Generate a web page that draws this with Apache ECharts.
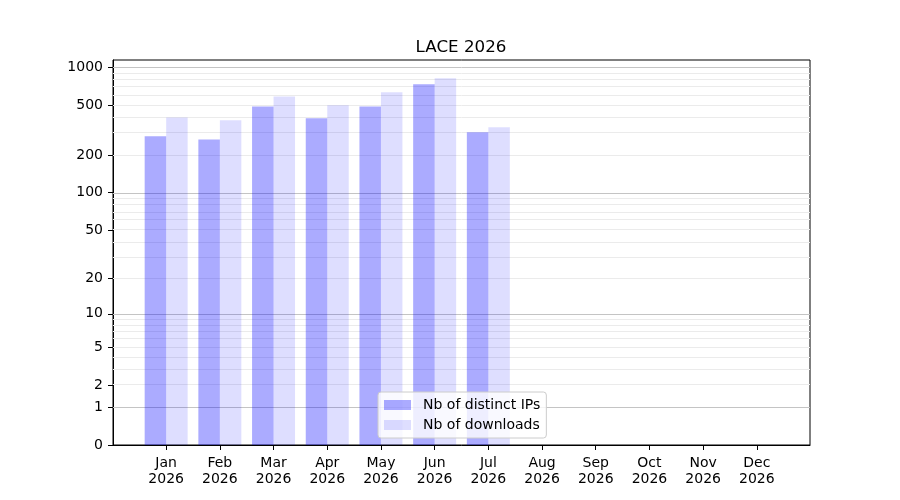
<!DOCTYPE html>
<html>
<head>
<meta charset="utf-8">
<script src="https://cdn.jsdelivr.net/npm/echarts@6/dist/echarts.min.js"></script>
<style>
  html, body { margin: 0; padding: 0; background: #fff; }
  #main { width: 900px; height: 500px; }
</style>
</head>
<body>
<div id="main"></div>
<script>
// donnees
var months = ['Jan', 'Feb', 'Mar', 'Apr', 'May', 'Jun', 'Jul', 'Aug', 'Sep', 'Oct', 'Nov', 'Dec'];
var year = '2026';
var distinctIPs = [282, 266, 487, 391, 487, 729, 303, 0, 0, 0, 0, 0];
var downloads = [398, 377, 585, 497, 630, 814, 332, 0, 0, 0, 0, 0];
var yTicks = [0, 1, 2, 5, 10, 20, 50, 100, 200, 500, 1000];
var majorGrid = [1, 10, 100, 1000];
var minorGrid = [2, 3, 4, 5, 6, 7, 8, 9, 20, 30, 40, 50, 60, 70, 80, 90, 200, 300, 400, 500, 600, 700, 800, 900];

// echelle log10(1+x)
function t(v){
    return Math.log10(1 + v);
}

function barData(vals){
    var out = [];
    for (var i = 0; i < vals.length; i++) {
        out.push([i, t(vals[i])]);
    }
    return out;
}

function gridLines(vals, color){
    var lines = [];
    for (var i = 0; i < vals.length; i++) {
        lines.push({ yAxis: t(vals[i]), lineStyle: { color: color, width: 1, type: 'solid' } });
    }
    return lines;
}

var tickPos = [];
for (var i = 0; i < yTicks.length; i++) tickPos.push(t(yTicks[i]));
var monthPos = [];
for (var i = 0; i < months.length; i++) monthPos.push(i);

var ymax = 1.05 * t(Math.max.apply(null, downloads));
var font = 'DejaVu Sans';

var myChart = echarts.init(document.getElementById('main'));
var option = {
    animation: false,
    backgroundColor: '#ffffff',
    title: {
        text: 'LACE 2026',
        left: 456,
        textAlign: 'center',
        top: 34,
        textStyle: { fontFamily: font, fontSize: 16.7, fontWeight: 'normal', color: '#000' }
    },
    legend: {
        orient: 'vertical',
        left: 378,
        top: 392,
        padding: [6, 6, 6, 6],
        itemGap: 6,
        itemWidth: 27,
        itemHeight: 10,
        icon: 'rect',
        borderColor: '#cccccc',
        borderWidth: 1,
        borderRadius: 3,
        backgroundColor: 'rgba(255,255,255,0.8)',
        textStyle: { fontFamily: font, fontSize: 14, color: '#000', lineHeight: 14, padding: [0, 0, 0, 7] },
        data: ['Nb of distinct IPs', 'Nb of downloads']
    },
    grid: {
        left: 113,
        right: 90,
        top: 60,
        bottom: 55,
        show: true,
        borderColor: '#000',
        borderWidth: 1,
        containLabel: false
    },
    xAxis: {
        type: 'value',
        min: -0.99,
        max: 11.99,
        axisLine: { show: true, onZero: false, lineStyle: { color: '#000', width: 1 } },
        axisTick: { show: true, length: 5, lineStyle: { color: '#000' }, customValues: monthPos },
        axisLabel: {
            customValues: monthPos,
            margin: 10,
            fontFamily: font,
            fontSize: 14,
            lineHeight: 16,
            color: '#000',
            formatter: function(v){
                return months[Math.round(v)] + '\n' + year;
            }
        },
        splitLine: { show: false }
    },
    yAxis: {
        type: 'value',
        min: 0,
        max: ymax,
        axisLine: { show: true, onZero: false, lineStyle: { color: '#000', width: 1 } },
        axisTick: { show: true, length: 5, lineStyle: { color: '#000' }, customValues: tickPos },
        axisLabel: {
            customValues: tickPos,
            margin: 10,
            fontFamily: font,
            fontSize: 14,
            color: '#000',
            formatter: function(v){
                return String(Math.round(Math.pow(10, v) - 1));
            }
        },
        splitLine: { show: false }
    },
    series: [
        {
            name: 'grid',
            type: 'line',
            data: [],
            z: 1,
            silent: true,
            markLine: {
                z: 1,
                silent: true,
                symbol: 'none',
                label: { show: false },
                data: gridLines(minorGrid, '#ebebeb').concat(gridLines(majorGrid, '#c4c4c4'))
            }
        },
        {
            name: 'Nb of distinct IPs',
            type: 'bar',
            barWidth: 21.5,
            barGap: '0%',
            z: 3,
            itemStyle: { color: 'rgba(0,0,255,0.33)' },
            data: barData(distinctIPs)
        },
        {
            name: 'Nb of downloads',
            type: 'bar',
            barWidth: 21.5,
            barGap: '0%',
            z: 3,
            itemStyle: { color: 'rgba(0,0,255,0.13)' },
            data: barData(downloads)
        }
    ]
};
myChart.setOption(option);
window.onresize = myChart.resize;
</script>
</body>
</html>
